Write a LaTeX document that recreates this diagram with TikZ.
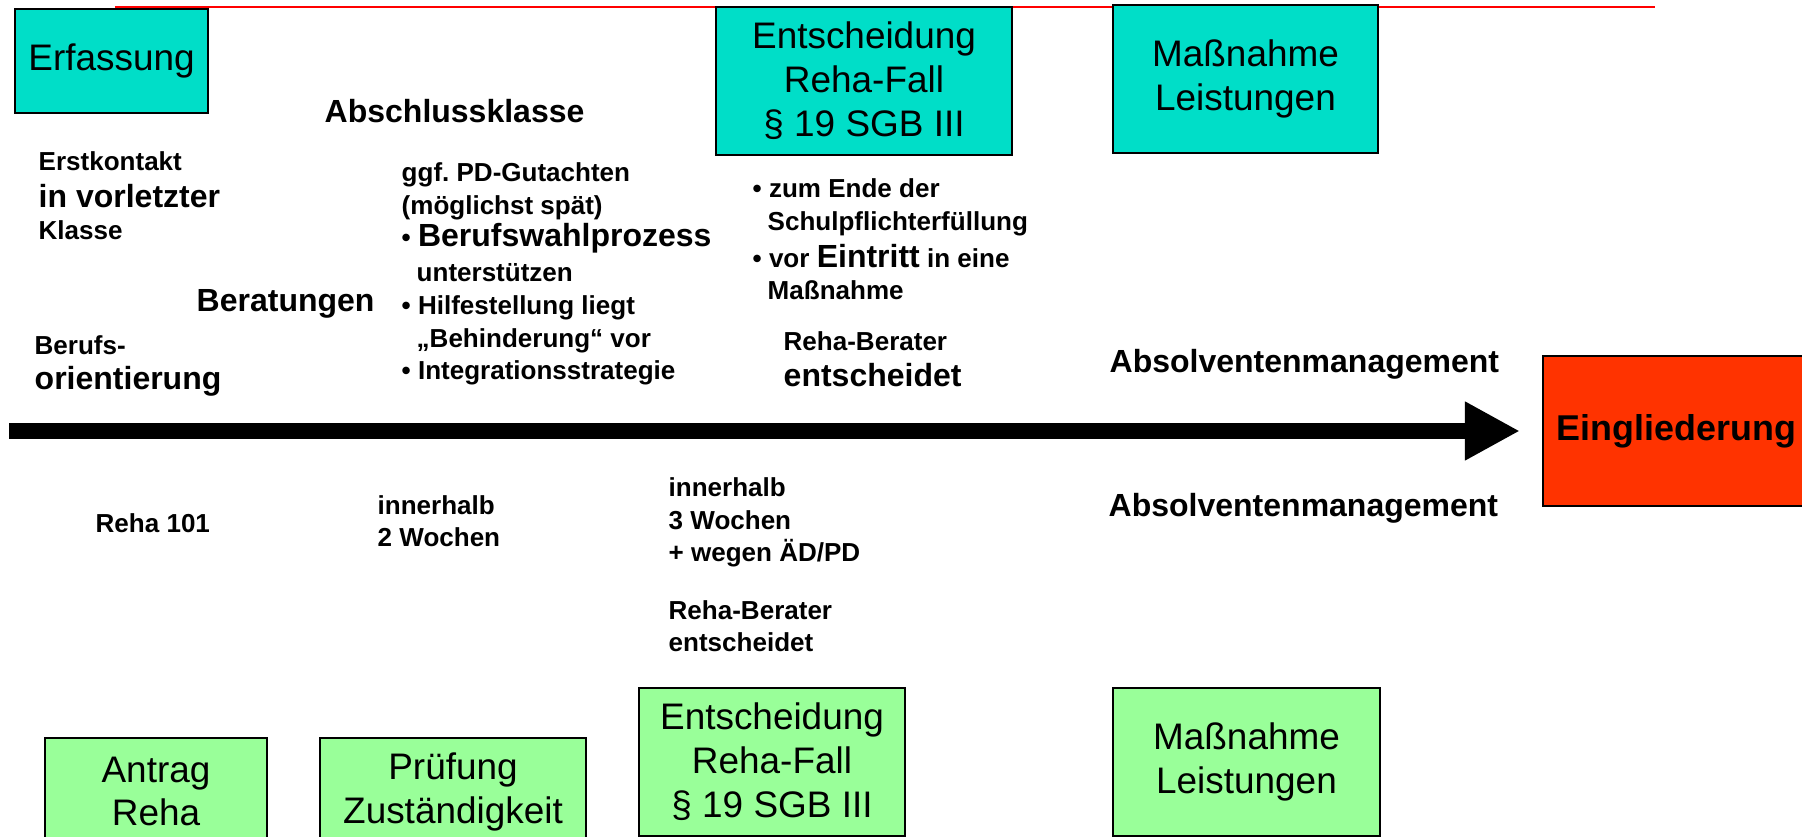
\documentclass[tikz,border=0pt]{standalone}
\usepackage{fontspec}
\setmainfont{Liberation Sans}
\usetikzlibrary{arrows.meta}
\usetikzlibrary{positioning}

\definecolor{tuerkis}{RGB}{0,222,200}
\definecolor{hellgruen}{RGB}{153,255,153}
\definecolor{orangerot}{RGB}{255,51,0}

\newcommand{\boxfont}{\fontsize{10.5}{12.5}\selectfont}
\newcommand{\smfont}{\fontsize{7.4}{9.3}\selectfont\bfseries}
\newcommand{\lgfont}{\fontsize{9.1}{9.3}\selectfont\bfseries}
\newcommand{\einz}{\hspace*{1.5mm}}

\begin{document}
\begin{tikzpicture}[
  x=0.01cm, y=-0.01cm,
  box/.style = {draw, line width=0.5pt, inner sep=0pt, outer sep=0pt, align=center, font=\boxfont},
  topbox/.style = {box, fill=tuerkis},
  bottombox/.style = {box, fill=hellgruen},
  txt/.style = {anchor=base west, inner sep=0pt, align=left, font=\smfont},
  timeline/.style = {line width=0.155cm, -{Triangle[length=0.55cm,width=0.55cm]}, shorten >=0.23cm}
  ]
  \useasboundingbox[fill=white] (0,0) rectangle (1802,837);

  \draw[red, line width=0.8pt] (115,7) -- (1655,7);

  % obere Reihe
  \node[topbox, minimum width=1.93cm, minimum height=1.04cm] (erf) at (111.5,61) {Erfassung};
  \node[topbox, minimum width=2.96cm, minimum height=1.48cm] (entTop) at (864,81) {Entscheidung\\Reha-Fall\\\S{} 19 SGB III};
  \node[topbox, minimum width=2.65cm, minimum height=1.48cm] (massTop) at (1245.5,79) {Maßnahme\\Leistungen};

  % untere Reihe
  \node[bottombox, minimum width=2.22cm, minimum height=1.07cm] (antrag) at (156,791.5) {Antrag\\Reha};
  \node[bottombox, minimum width=2.66cm, minimum height=1.07cm] (pruef) at (453,791.5) {Prüfung\\Zuständigkeit};
  \node[bottombox, minimum width=2.66cm, minimum height=1.48cm] (entBot) at (772,762) {Entscheidung\\Reha-Fall\\\S{} 19 SGB III};
  \node[bottombox, minimum width=2.67cm, minimum height=1.48cm] (massBot) at (1246.5,762) {Maßnahme\\Leistungen};

  \node[box, fill=orangerot, minimum width=2.67cm, minimum height=1.50cm,
        font=\fontsize{10.2}{12}\selectfont\bfseries] (eingl) at (1676.5,431) {Eingliederung};

  % Zeitstrahl
  \coordinate (start) at (9,431);
  \draw[timeline] (start) -- (eingl.west);

  % Texte oben (Anker = Grundlinie der letzten Zeile)
  \node[txt, font=\lgfont] (abschl) at (324,123) {Abschlussklasse};
  \node[txt] (erst) at (38,240) {Erstkontakt\\[1.2pt]{\lgfont in vorletzter}\\Klasse};
  \node[txt, font=\lgfont] (berat) at (196,312) {Beratungen};
  \node[txt] (berufs) at (34,390) {Berufs-\\[0.7pt]{\lgfont orientierung}};
  \node[txt] (gutachten) at (401,380) {ggf.\ PD-Gutachten\\(möglichst spät)\\• {\lgfont Berufswahlprozess}\\[0.7pt]
    \einz unterstützen\\• Hilfestellung liegt\\\einz „Behinderung“ vor\\• Integrationsstrategie};
  \node[txt] (ende) at (752,300) {• zum Ende der\\\einz Schulpflichterfüllung\\[1.2pt]• vor {\lgfont Eintritt} in eine\\\einz Maßnahme};
  \node[txt] (beraterTop) at (783,387) {Reha-Berater\\[1.2pt]{\lgfont entscheidet}};
  \node[txt, font=\lgfont] (absTop) at (1109,373) {Absolventenmanagement};

  % Texte unten
  \node[txt] (reha) at (95,533) {Reha 101};
  \node[txt] (zwei) at (377,547) {innerhalb\\2 Wochen};
  \node[txt] (drei) at (668,562) {innerhalb\\3 Wochen\\+ wegen ÄD/PD};
  \node[txt] (beraterBot) at (668,652) {Reha-Berater\\entscheidet};
  \node[txt, font=\lgfont] (absBot) at (1108,517) {Absolventenmanagement};

\end{tikzpicture}
\end{document}
